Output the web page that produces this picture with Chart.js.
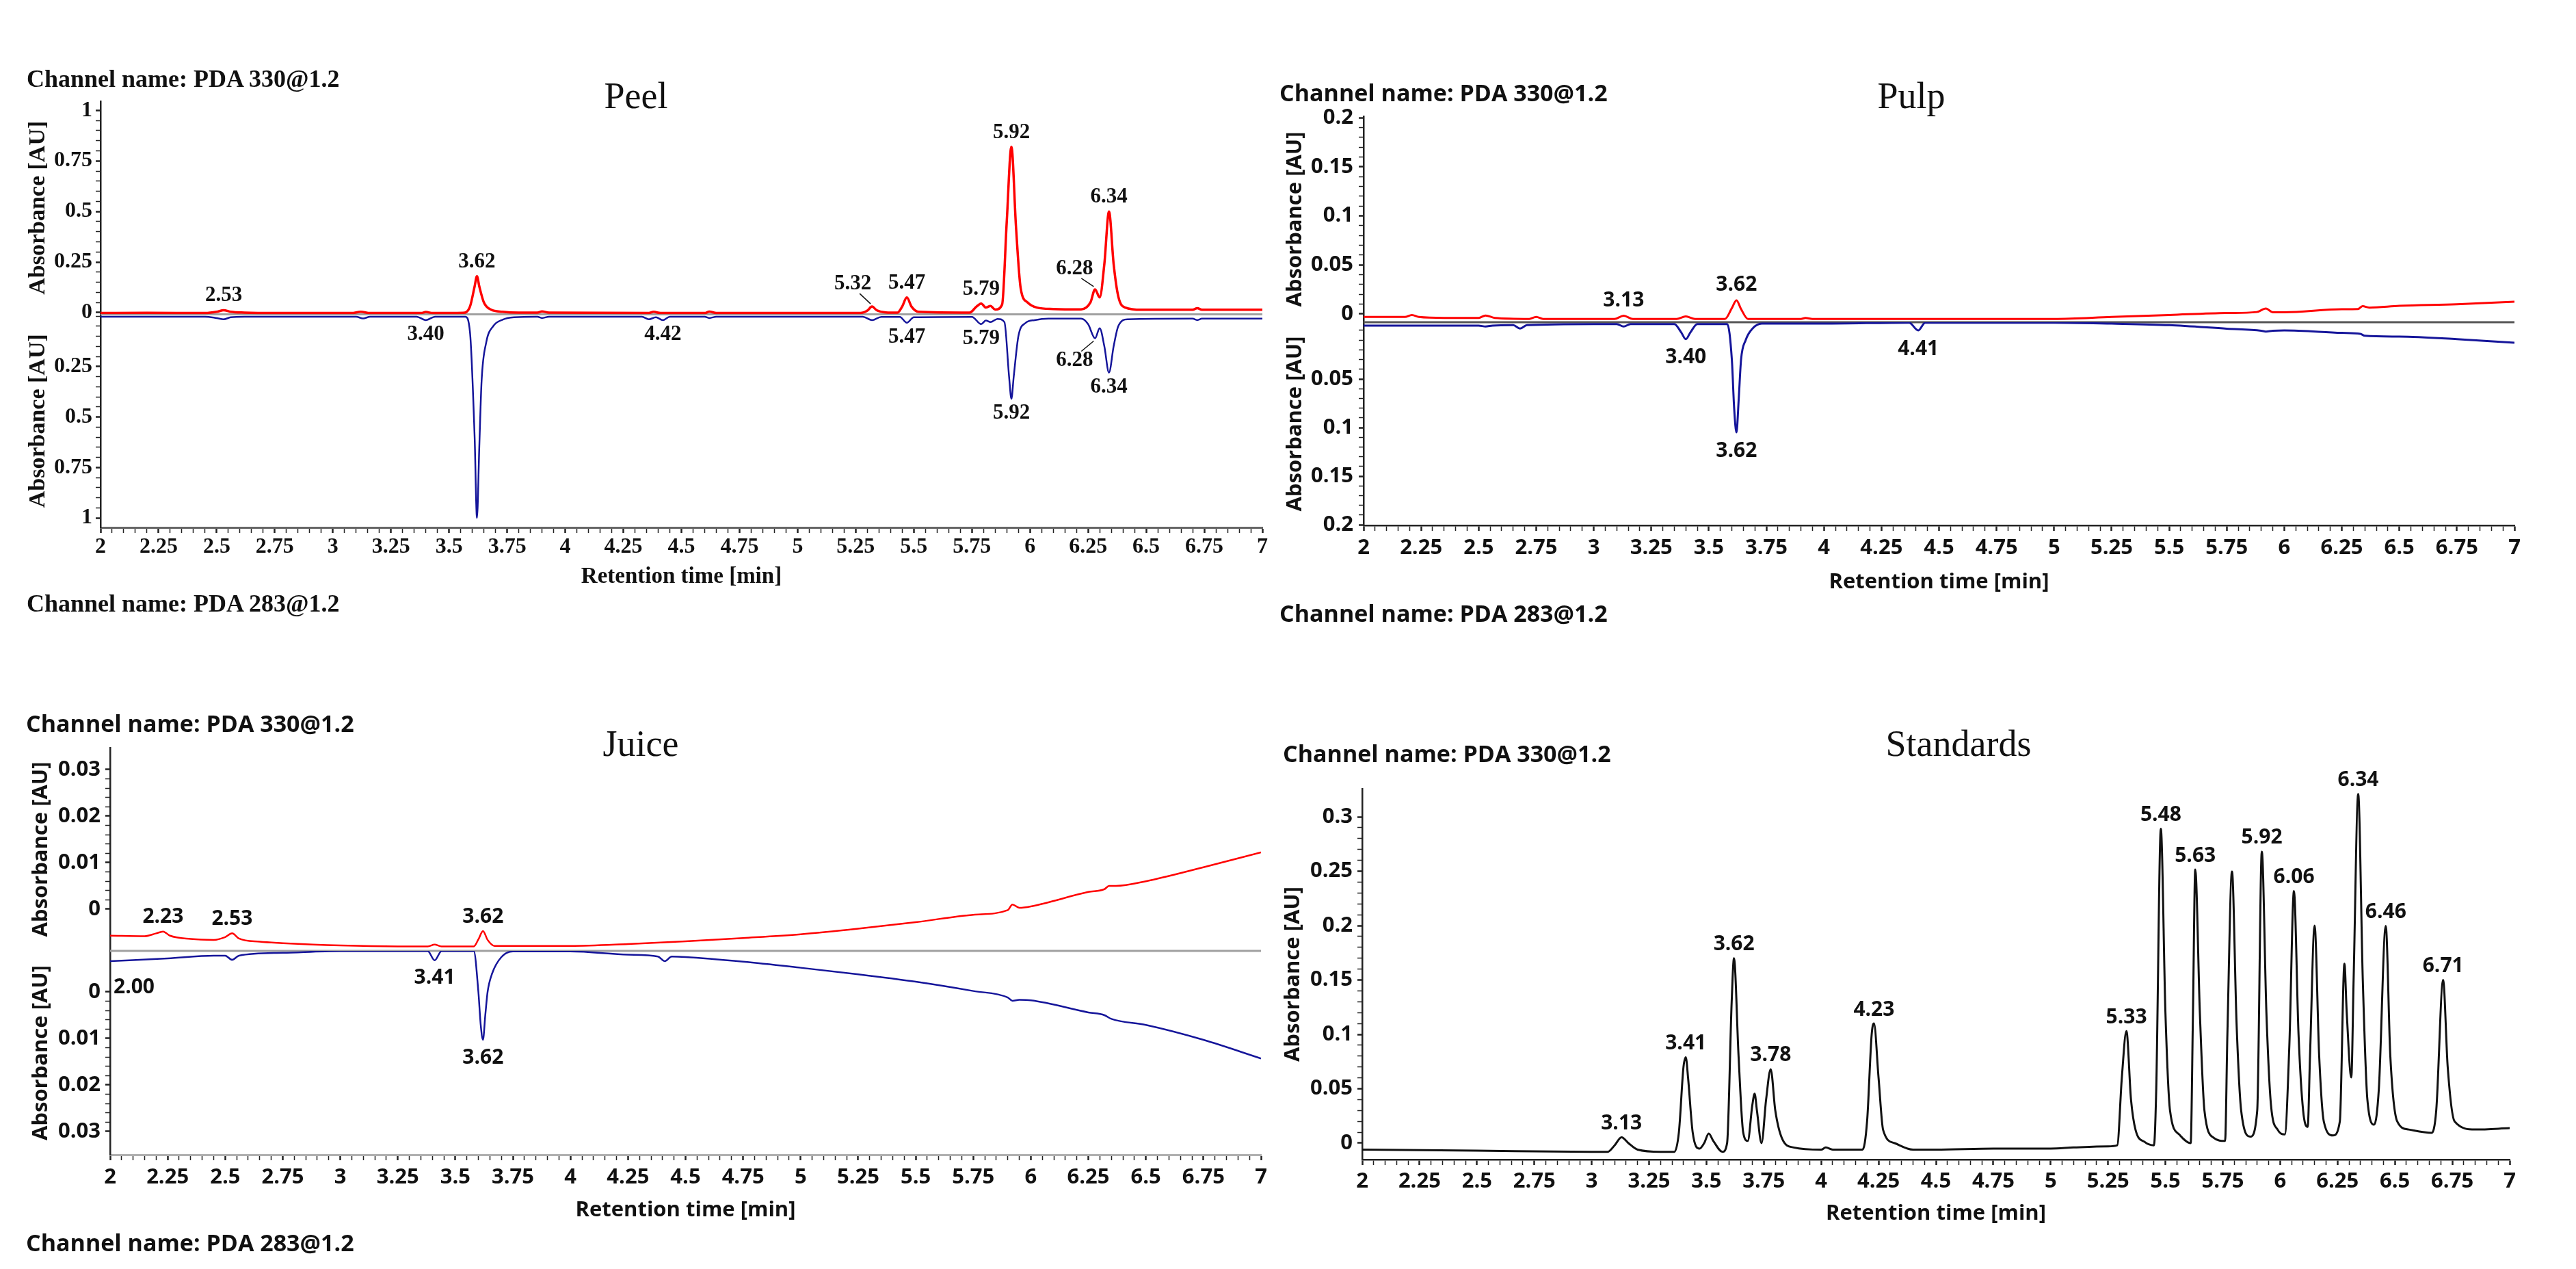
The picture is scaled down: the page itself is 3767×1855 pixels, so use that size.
<!DOCTYPE html>
<html><head><meta charset="utf-8">
<script src="https://cdn.jsdelivr.net/npm/chart.js@4.4.1/dist/chart.umd.min.js"></script>
<style>
html,body{margin:0;padding:0;background:#fff;}
#page{position:relative;width:3767px;height:1855px;overflow:hidden;background:#fff;}
canvas{position:absolute;}
.t{position:absolute;line-height:1;white-space:nowrap;color:#111;z-index:5;}
.serifb{font-family:'Liberation Serif','Times New Roman',serif;font-weight:bold;}
.sansb{font-family:'Open Sans',sans-serif;font-weight:bold;}
.ttl{font-family:'Liberation Serif','Times New Roman',serif;font-weight:normal;font-size:54px;transform:translateX(-50%);}
</style></head>
<body><div id="page"></div>
<script>
// ---------------- DATA ----------------
const xTickLabels = ['2','2.25','2.5','2.75','3','3.25','3.5','3.75','4','4.25','4.5','4.75','5','5.25','5.5','5.75','6','6.25','6.5','6.75','7'];

const peelTopTicks = ['0','0.25','0.5','0.75','1'];
const peelBotTicks = ['0.25','0.5','0.75','1'];
const pulpTopTicks = ['0','0.05','0.1','0.15','0.2'];
const pulpBotTicks = ['0.05','0.1','0.15','0.2'];
const juiceTopTicks = ['0','0.01','0.02','0.03'];
const juiceBotTicks = ['0','0.01','0.02','0.03'];
const stdTicks = ['0','0.05','0.1','0.15','0.2','0.25','0.3'];

// Peel, PDA 330 (red, upper half) [time min, absorbance AU]
const peel330 = [[2.00,-0.002],[2.20,-0.001],[2.45,-0.002],[2.50,0.004],[2.53,0.012],[2.56,0.004],[2.62,0.000],[2.75,-0.002],
[3.08,-0.002],[3.12,0.004],[3.16,-0.002],[3.38,-0.002],[3.40,0.003],[3.43,-0.002],
[3.56,-0.001],[3.59,0.03],[3.61,0.13],[3.62,0.18],[3.63,0.13],[3.65,0.05],[3.68,0.015],[3.73,0.004],[3.80,0.0],
[3.88,0.0],[3.90,0.006],[3.93,0.0],[4.36,-0.002],[4.38,0.004],[4.41,-0.002],[4.60,-0.002],[4.62,0.005],[4.65,-0.002],
[5.27,-0.002],[5.30,0.01],[5.32,0.03],[5.34,0.012],[5.38,0.001],[5.43,0.0],[5.45,0.03],[5.47,0.075],[5.49,0.03],[5.52,0.004],
[5.74,0.0],[5.77,0.03],[5.79,0.045],[5.81,0.025],[5.83,0.033],[5.85,0.015],[5.88,0.04],[5.90,0.45],[5.92,0.82],[5.94,0.42],[5.96,0.12],[5.99,0.05],[6.03,0.025],[6.10,0.018],
[6.22,0.016],[6.26,0.05],[6.28,0.115],[6.30,0.075],[6.32,0.24],[6.34,0.50],[6.36,0.24],[6.38,0.08],[6.41,0.025],[6.48,0.014],[6.70,0.014],[6.72,0.022],[6.74,0.014],[7.00,0.014]];

// Peel, PDA 283 (blue, lower half, plotted downward)
const peel283 = [[2.00,0.003],[2.45,0.003],[2.50,0.010],[2.53,0.016],[2.56,0.006],[2.62,0.003],[3.10,0.003],[3.13,0.012],[3.16,0.003],
[3.36,0.003],[3.40,0.020],[3.44,0.003],[3.57,0.003],[3.59,0.08],[3.61,0.6],[3.62,1.0],[3.63,0.65],[3.64,0.32],[3.66,0.13],[3.69,0.05],[3.73,0.018],[3.78,0.006],
[3.88,0.003],[3.90,0.010],[3.93,0.003],[4.33,0.003],[4.36,0.016],[4.39,0.006],[4.42,0.020],[4.45,0.003],[4.60,0.003],[4.62,0.010],[4.65,0.003],
[5.28,0.003],[5.32,0.020],[5.36,0.004],[5.44,0.004],[5.47,0.033],[5.50,0.006],[5.75,0.004],[5.79,0.04],[5.81,0.022],[5.83,0.03],[5.86,0.014],[5.89,0.03],[5.91,0.3],[5.92,0.41],[5.93,0.3],[5.95,0.1],[5.98,0.035],[6.02,0.02],[6.08,0.013],
[6.22,0.013],[6.25,0.04],[6.28,0.11],[6.30,0.06],[6.32,0.15],[6.34,0.28],[6.36,0.15],[6.38,0.05],[6.42,0.016],[6.70,0.013],[6.72,0.02],[6.74,0.013],[7.00,0.013]];

// Pulp
const pulp330 = [[2.00,-0.003],[2.18,-0.003],[2.21,-0.001],[2.24,-0.003],[2.35,-0.004],[2.50,-0.004],[2.53,-0.0015],[2.57,-0.004],[2.72,-0.005],[2.75,-0.003],[2.78,-0.005],
[3.09,-0.005],[3.13,-0.0017],[3.17,-0.005],[3.36,-0.005],[3.40,-0.0025],[3.44,-0.005],[3.57,-0.005],[3.60,0.006],[3.62,0.014],[3.64,0.005],[3.67,-0.005],
[3.90,-0.005],[3.92,-0.004],[3.95,-0.005],[4.20,-0.005],[4.41,-0.005],[5.00,-0.005],[5.25,-0.003],[5.50,-0.001],[5.75,0.001],[5.88,0.002],[5.92,0.0055],[5.95,0.0018],[6.00,0.0017],
[6.25,0.0048],[6.32,0.005],[6.34,0.008],[6.37,0.0065],[6.50,0.0083],[6.75,0.0099],[7.00,0.0126]];
const pulp283 = [[2.00,-0.005],[2.50,-0.005],[2.53,-0.004],[2.56,-0.005],[2.65,-0.0055],[2.68,-0.002],[2.71,-0.0055],[3.00,-0.0066],[3.10,-0.0066],[3.13,-0.004],[3.16,-0.0066],
[3.35,-0.0066],[3.38,0.002],[3.40,0.009],[3.42,0.002],[3.45,-0.0066],[3.58,-0.0066],[3.60,0.03],[3.61,0.08],[3.62,0.105],[3.63,0.07],[3.64,0.03],[3.66,0.01],[3.69,-0.002],[3.73,-0.007],
[4.00,-0.007],[4.37,-0.008],[4.41,0.0],[4.44,-0.008],[5.00,-0.008],[5.25,-0.007],[5.50,-0.0054],[5.75,-0.0018],[5.90,0.0003],[5.92,0.0012],[5.95,0.0004],[6.00,0.0],
[6.25,0.0025],[6.33,0.0035],[6.35,0.0055],[6.50,0.0064],[6.75,0.009],[7.00,0.0127]];

// Juice
const juice330 = [[2.00,-0.0057],[2.15,-0.0058],[2.20,-0.0052],[2.23,-0.0048],[2.26,-0.0057],[2.35,-0.0064],[2.45,-0.0066],[2.50,-0.006],[2.53,-0.0052],[2.56,-0.0063],[2.65,-0.0070],[2.75,-0.0073],
[3.00,-0.0078],[3.25,-0.0080],[3.38,-0.0080],[3.41,-0.0076],[3.44,-0.0080],[3.58,-0.0080],[3.60,-0.0065],[3.62,-0.0047],[3.64,-0.0066],[3.67,-0.0079],[4.00,-0.0079],
[4.25,-0.0075],[4.50,-0.0069],[4.75,-0.0062],[5.00,-0.0054],[5.25,-0.0042],[5.50,-0.0028],[5.75,-0.0012],[5.90,-0.0002],[5.92,0.0010],[5.95,0.0003],[6.00,0.0006],
[6.25,0.0037],[6.32,0.0043],[6.34,0.0050],[6.37,0.0050],[6.50,0.0060],[6.75,0.0090],[7.00,0.0122]];
const juice283 = [[2.00,-0.0066],[2.25,-0.0072],[2.45,-0.0078],[2.50,-0.0078],[2.53,-0.0069],[2.56,-0.0078],[2.75,-0.0084],[3.00,-0.0088],[3.25,-0.0088],[3.38,-0.0088],[3.41,-0.0068],[3.44,-0.0088],
[3.58,-0.0088],[3.60,0.0],[3.61,0.007],[3.62,0.0103],[3.63,0.005],[3.64,0.0],[3.66,-0.004],[3.70,-0.0075],[3.75,-0.0087],[4.00,-0.0087],[4.25,-0.0080],[4.38,-0.0076],[4.41,-0.0066],[4.44,-0.0076],
[4.50,-0.0075],[4.75,-0.0065],[5.00,-0.0052],[5.25,-0.0038],[5.50,-0.0022],[5.75,-0.0002],[5.90,0.0012],[5.92,0.0019],[5.95,0.0017],[6.00,0.0018],
[6.25,0.0044],[6.32,0.0050],[6.35,0.0058],[6.50,0.0071],[6.75,0.0103],[7.00,0.0143]];

// Standards, PDA 330
const std330 = [[2.00,-0.006],[2.50,-0.007],[3.00,-0.008],[3.07,-0.008],[3.10,-0.002],[3.13,0.0054],[3.16,0.0],[3.20,-0.006],[3.30,-0.008],[3.36,-0.008],[3.38,0.01],[3.40,0.07],[3.41,0.079],[3.42,0.06],[3.44,0.01],
[3.47,-0.005],[3.49,0.0],[3.51,0.0088],[3.53,0.002],[3.57,-0.008],[3.59,0.0],[3.61,0.13],[3.62,0.17],[3.64,0.08],[3.66,0.01],[3.68,0.002],[3.70,0.035],[3.71,0.0455],[3.72,0.03],[3.74,0.0],
[3.76,0.04],[3.78,0.068],[3.80,0.03],[3.83,0.004],[3.88,-0.004],[4.00,-0.006],[4.02,-0.004],[4.05,-0.006],[4.18,-0.006],[4.20,0.02],[4.22,0.10],[4.23,0.11],[4.25,0.06],[4.27,0.012],[4.32,0.0],[4.40,-0.006],
[4.50,-0.006],[4.75,-0.005],[5.00,-0.005],[5.10,-0.004],[5.25,-0.003],[5.29,-0.002],[5.31,0.06],[5.33,0.103],[5.35,0.04],[5.37,0.012],[5.41,0.001],[5.45,-0.002],[5.46,0.05],[5.48,0.289],[5.50,0.12],[5.52,0.03],[5.56,0.008],
[5.61,0.0],[5.62,0.12],[5.63,0.2516],[5.65,0.12],[5.67,0.03],[5.71,0.005],[5.76,0.002],[5.77,0.1],[5.79,0.2497],[5.81,0.11],[5.83,0.03],[5.87,0.006],[5.90,0.03],[5.92,0.268],[5.94,0.12],[5.96,0.035],[5.99,0.012],
[6.02,0.008],[6.04,0.09],[6.06,0.2317],[6.08,0.1],[6.10,0.03],[6.12,0.015],[6.13,0.08],[6.15,0.20],[6.17,0.08],[6.19,0.02],[6.23,0.007],[6.26,0.02],[6.28,0.165],[6.29,0.12],[6.31,0.0604],[6.32,0.15],[6.34,0.321],[6.36,0.15],[6.38,0.04],
[6.41,0.017],[6.43,0.05],[6.46,0.1997],[6.48,0.08],[6.51,0.02],[6.56,0.0125],[6.66,0.0095],[6.68,0.03],[6.71,0.15],[6.73,0.07],[6.76,0.02],[6.85,0.0125],[7.00,0.0138]];

// Peak labels (retention times)
const peelLabels330 = ['2.53','3.62','5.32','5.47','5.79','5.92','6.28','6.34'];
const peelLabels283 = ['3.40','4.42','5.47','5.79','5.92','6.28','6.34'];
const pulpLabels330 = ['3.13','3.62'];
const pulpLabels283 = ['3.40','3.62','4.41'];
const juiceLabels330 = ['2.23','2.53','3.62'];
const juiceLabels283 = ['2.00','3.41','3.62'];
const stdLabels330 = ['3.13','3.41','3.62','3.78','4.23','5.33','5.48','5.63','5.92','6.06','6.34','6.46','6.71'];

// ---------------- STYLE / LAYOUT ----------------
const SERIF = "'Liberation Serif','Times New Roman',serif";
const SANS = "'Open Sans','Noto Sans',sans-serif";
const labelNudge = { // [dx, dy, leader]
  peel330: {'5.32':[-28,-33,true], '6.28':[-30,-30,true]},
  peel283: {'6.28':[-30,33,true]},
  juice283: {'2.00':[35,38,false]}
};

function tickSet(labels, minorStep, lo, hi) {
  const majors = labels.map(Number);
  const n = Math.round((hi - lo) / minorStep);
  const out = [];
  for (let i = 0; i <= n; i++) {
    const v = +(lo + i * minorStep).toFixed(6);
    const j = majors.findIndex(m => Math.abs(m - v) < 1e-7);
    out.push({value: v, label: j >= 0 ? labels[j] : ''});
  }
  return out;
}
function labelFor(ticks, v) {
  const t = ticks.find(k => Math.abs(k.value - v) < 1e-7);
  return t ? t.label : '';
}
const tickW = c => (c.tick && c.tick.label ? 2.5 : 1.5);
function noPad(s) { s.paddingTop = 0; s.paddingBottom = 0; s.paddingLeft = 0; s.paddingRight = 0; }

function yScale(o) {
  const ticks = tickSet(o.labels, o.minor, o.lo, o.hi);
  return {
    type:'linear', position:'left', stack:o.stack, stackWeight:o.weight, reverse:!!o.reverse,
    min:o.min, max:o.max,
    afterBuildTicks: s => { s.ticks = ticks.map(t => ({value:t.value})); },
    afterFit: s => { s.width = o.width; noPad(s); },
    ticks:{autoSkip:false, padding:o.pad, color:'#111', font:o.font, callback:v => labelFor(ticks, v)},
    grid:{drawOnChartArea:false, drawTicks:true, tickLength:7, tickColor:'#222', tickWidth:tickW},
    border:{display:true, color:'#222', width:2.5},
    title:{display:true, text:'Absorbance [AU]', font:o.titleFont, color:'#111', padding:{top:o.titlePad, bottom:0}}
  };
}
function xScale(o) {
  const ticks = tickSet(xTickLabels, 0.05, 2, 7);
  return {
    type:'linear', position:'bottom', min:2, max:7,
    afterBuildTicks: s => { s.ticks = ticks.map(t => ({value:t.value})); },
    afterFit: s => { s.height = o.height; noPad(s); },
    ticks:{autoSkip:false, maxRotation:0, minRotation:0, padding:o.pad, color:'#111', font:o.font, callback:v => labelFor(ticks, v)},
    grid:{drawOnChartArea:false, drawTicks:true, tickLength:8, tickColor:'#222', tickWidth:tickW},
    border:{display:true, color:o.border, width:o.borderWidth},
    title:{display:true, text:'Retention time [min]', font:o.titleFont, color:'#111', padding:{top:0, bottom:o.titlePB}}
  };
}
function centerLine(scaleId, color, width) {
  return { id:'centerLine', beforeDatasetsDraw(chart) {
    const s = chart.scales[scaleId], a = chart.chartArea, ctx = chart.ctx;
    ctx.save(); ctx.strokeStyle = color; ctx.lineWidth = width;
    ctx.beginPath(); ctx.moveTo(a.left, s.bottom); ctx.lineTo(a.right, s.bottom); ctx.stroke(); ctx.restore();
  }};
}
function peakLabels(groups, font, gapUp, gapDown) {
  return { id:'peakLabels', afterDatasetsDraw(chart) {
    const ctx = chart.ctx;
    ctx.save(); ctx.font = font; ctx.fillStyle = '#111'; ctx.strokeStyle = '#111'; ctx.lineWidth = 1.5;
    ctx.textAlign = 'center'; ctx.textBaseline = 'middle';
    groups.forEach(g => {
      const meta = chart.getDatasetMeta(g.ds);
      const data = chart.data.datasets[g.ds].data;
      g.labels.forEach(txt => {
        const t = parseFloat(txt);
        let bi = 0, bd = Infinity;
        data.forEach((p, i) => { const d = Math.abs(p.x - t); if (d < bd) { bd = d; bi = i; } });
        const el = meta.data[bi];
        const nd = (g.nudge && g.nudge[txt]) || null;
        const dx = nd ? nd[0] : 0;
        const dy = nd ? nd[1] : (g.down ? gapDown : -gapUp);
        const lx = el.x + dx, ly = el.y + dy;
        ctx.fillText(txt, lx, ly);
        if (nd && nd[2]) {
          ctx.beginPath();
          if (dy < 0) { ctx.moveTo(lx + 10, ly + 14); ctx.lineTo(el.x - 2, el.y - 4); }
          else { ctx.moveTo(lx + 10, ly - 14); ctx.lineTo(el.x - 2, el.y + 4); }
          ctx.stroke();
        }
      });
    });
    ctx.restore();
  }};
}
const pts = arr => arr.map(([x, y]) => ({x, y}));
const line = (arr, axis, color, w) => ({data:pts(arr), yAxisID:axis, borderColor:color, borderWidth:w, pointRadius:0,
  cubicInterpolationMode:'monotone', fill:false});

function makeChart(rect, pad, datasets, scales, plugins) {
  const c = document.createElement('canvas');
  c.width = rect.w; c.height = rect.h;
  c.style.left = rect.x + 'px'; c.style.top = rect.y + 'px';
  c.style.width = rect.w + 'px'; c.style.height = rect.h + 'px';
  document.getElementById('page').appendChild(c);
  return new Chart(c, {
    type:'line',
    data:{datasets},
    options:{responsive:false, animation:false, devicePixelRatio:1, events:[],
      layout:{padding:pad},
      plugins:{legend:{display:false}, tooltip:{enabled:false}},
      scales},
    plugins
  });
}

const RED = '#ff0000', BLUE = '#15159a';
const serifTick = {family:SERIF, size:32, weight:'bold'};
const serifTitle = {family:SERIF, size:34, weight:'bold'};
const sansTick = {family:SANS, size:31, weight:'bold'};
const sansTitle = {family:SANS, size:31, weight:'bold'};

// NOTE: stacked axes are laid out bottom-up in declaration order, so the lower (283 nm) axis is declared first.
// Peel
makeChart({x:27, y:118, w:1839, h:753}, {top:30, right:20, left:0, bottom:0},
  [line(peel330,'yTop',RED,3.5), line(peel283,'yBot',BLUE,2.5)],
  { x: xScale({height:100, pad:2, font:serifTick, titleFont:{family:SERIF,size:33,weight:'bold'}, titlePB:8, border:'#666', borderWidth:3}),
    yBot: yScale({labels:peelBotTicks, minor:0.05, lo:0, hi:1, stack:'p', weight:1, reverse:true, min:-0.0085, max:1.047, width:120, pad:5, font:serifTick, titleFont:serifTitle, titlePad:9}),
    yTop: yScale({labels:peelTopTicks, minor:0.05, lo:0, hi:1, stack:'p', weight:1, min:-0.0085, max:1.045, width:120, pad:5, font:serifTick, titleFont:serifTitle, titlePad:9}) },
  [centerLine('yTop','#a0a0a0',3), peakLabels([{ds:0, labels:peelLabels330, nudge:labelNudge.peel330}, {ds:1, labels:peelLabels283, down:true, nudge:labelNudge.peel283}], "bold 31px 'Liberation Serif', serif", 21, 21)]);

// Pulp
makeChart({x:1874, y:140, w:1833, h:738}, {top:30, right:30, left:0, bottom:0},
  [line(pulp330,'yTop',RED,3), line(pulp283,'yBot',BLUE,3)],
  { x: xScale({height:110, pad:7, font:sansTick, titleFont:sansTitle, titlePB:8, border:'#222', borderWidth:2.5}),
    yBot: yScale({labels:pulpBotTicks, minor:0.01, lo:0, hi:0.2, stack:'q', weight:297, reverse:true, min:-0.00845, max:0.2007, width:120, pad:8, font:sansTick, titleFont:sansTitle, titlePad:2}),
    yTop: yScale({labels:pulpTopTicks, minor:0.01, lo:0, hi:0.2, stack:'q', weight:301, min:-0.00837, max:0.2015, width:120, pad:8, font:sansTick, titleFont:sansTitle, titlePad:2}) },
  [centerLine('yTop','#555',3), peakLabels([{ds:0, labels:pulpLabels330}, {ds:1, labels:pulpLabels283, down:true}], "bold 30px 'Open Sans', sans-serif", 22, 27)]);

// Juice
makeChart({x:41, y:1063, w:1823, h:733}, {top:30, right:20, left:0, bottom:0},
  [line(juice330,'yTop',RED,2.5), line(juice283,'yBot',BLUE,2.5)],
  { x: xScale({height:108, pad:7, font:sansTick, titleFont:sansTitle, titlePB:8, border:'#b0b0b0', borderWidth:3}),
    yBot: yScale({labels:juiceBotTicks, minor:0.002, lo:0, hi:0.03, stack:'j', weight:298, reverse:true, min:-0.00882, max:0.0350, width:120, pad:7, font:sansTick, titleFont:sansTitle, titlePad:1}),
    yTop: yScale({labels:juiceTopTicks, minor:0.002, lo:0, hi:0.03, stack:'j', weight:297, min:-0.00897, max:0.0347, width:120, pad:7, font:sansTick, titleFont:sansTitle, titlePad:1}) },
  [centerLine('yTop','#a0a0a0',3), peakLabels([{ds:0, labels:juiceLabels330}, {ds:1, labels:juiceLabels283, down:true, nudge:labelNudge.juice283}], "bold 30px 'Open Sans', sans-serif", 21, 26)]);

// Standards
makeChart({x:1872, y:1103, w:1828, h:698}, {top:50, right:30, left:0, bottom:0},
  [line(std330,'y','#111',3)],
  { x: xScale({height:106, pad:6, font:sansTick, titleFont:sansTitle, titlePB:8, border:'#222', borderWidth:2.5}),
    y: yScale({labels:stdTicks, minor:0.01, lo:0, hi:0.3, stack:undefined, weight:1, min:-0.0151, max:0.3258, width:120, pad:7, font:sansTick, titleFont:sansTitle, titlePad:1}) },
  [peakLabels([{ds:0, labels:stdLabels330}], "bold 30px 'Open Sans', sans-serif", 20, 20)]);

// Text blocks
const texts = [
  ['t serifb', 39, 97, 36, 'Channel name: PDA 330@1.2'],
  ['t serifb', 39, 864, 36, 'Channel name: PDA 283@1.2'],
  ['t sansb', 1871, 118, 34, 'Channel name: PDA 330@1.2'],
  ['t sansb', 1871, 879, 34, 'Channel name: PDA 283@1.2'],
  ['t sansb', 38, 1040, 34, 'Channel name: PDA 330@1.2'],
  ['t sansb', 38, 1799, 34, 'Channel name: PDA 283@1.2'],
  ['t sansb', 1876, 1084, 34, 'Channel name: PDA 330@1.2'],
  ['t ttl', 930, 113, 54, 'Peel'],
  ['t ttl', 2795, 113, 54, 'Pulp'],
  ['t ttl', 937, 1060, 54, 'Juice'],
  ['t ttl', 2864, 1060, 54, 'Standards']
];
texts.forEach(([cls, x, y, fs, s]) => {
  const d = document.createElement('div');
  d.className = cls; d.style.left = x + 'px'; d.style.top = y + 'px'; d.style.fontSize = fs + 'px';
  d.textContent = s;
  document.getElementById('page').appendChild(d);
});
</script>
</body></html>
